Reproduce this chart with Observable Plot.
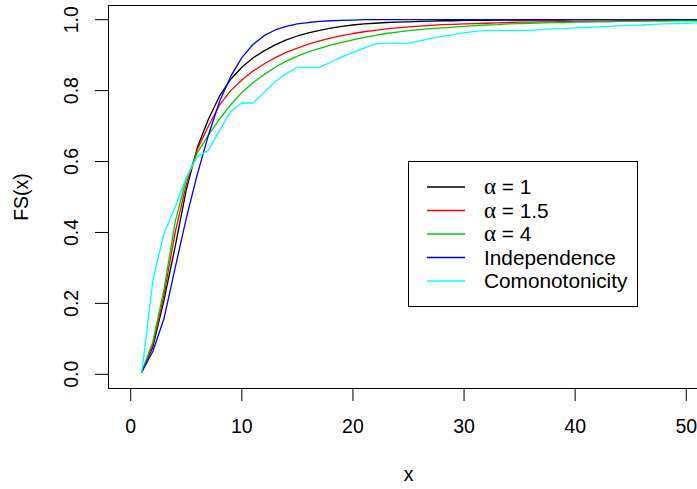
<!DOCTYPE html>
<html><head><meta charset="utf-8">
<script src="https://cdn.jsdelivr.net/npm/d3@7"></script>
<script src="https://cdn.jsdelivr.net/npm/@observablehq/plot@0.6"></script>
<style>
html,body{margin:0;padding:0;background:#fff;overflow:hidden;}
#wrap{position:relative;width:697px;height:489px;overflow:hidden;font-family:"Liberation Sans",Arial,sans-serif;}
#legend{position:absolute;left:408px;top:161px;}
</style></head>
<body>
<div id="wrap"><div id="chart"></div><div id="legend"></div></div>
<script>
const xs = [1,2,3,4,5,6,7,8,9,10,11,12,13,14,15,16,17,18,19,20,21,22,23,24,25,26,27,28,29,30,
  31,32,33,34,35,36,37,38,39,40,41,42,43,44,45,46,47,48,49,50,51,52,53,54,55,56,57,58,59,60];

const alpha1 = [.007,.078,.21,.36,.52,.64,.72,.785,.832,.866,
 .892,.912,.929,.943,.954,.963,.970,.976,.981,.985,
 .988,.990,.992,.993,.994,.995,.996,.997,.997,.998,
 .998,.998,.999,.999,.999,.999,.999,.999,.999,1,
 1,1,1,1,1,1,1,1,1,1,
 1,1,1,1,1,1,1,1,1,1];

const alpha15 = [.007,.085,.225,.40,.535,.635,.70,.76,.80,.83,
 .855,.875,.893,.908,.92,.931,.94,.948,.955,.961,
 .966,.970,.974,.977,.980,.982,.984,.986,.987,.988,
 .989,.990,.991,.992,.993,.993,.994,.994,.995,.995,
 .996,.996,.996,.997,.997,.997,.998,.998,.998,.998,
 .999,.999,.999,.999,.999,.999,.999,1,1,1];

const alpha4 = [.007,.092,.24,.43,.55,.625,.675,.72,.76,.795,
 .822,.845,.866,.883,.897,.909,.919,.928,.936,.943,
 .950,.956,.961,.965,.969,.972,.975,.977,.979,.981,
 .983,.985,.986,.988,.989,.990,.991,.992,.992,.993,
 .993,.994,.994,.995,.995,.996,.996,.996,.997,.997,
 .997,.998,.998,.998,.998,.999,.999,.999,.999,.999];

const independence = [.007,.065,.158,.30,.44,.565,.675,.77,.84,.893,
 .93,.955,.971,.981,.988,.992,.995,.997,.998,.999,
 1,1,1,1,1,1,1,1,1,1,
 1,1,1,1,1,1,1,1,1,1,
 1,1,1,1,1,1,1,1,1,1,
 1,1,1,1,1,1,1,1,1,1];

const comonotonicity = [.007,.266,.398,.472,.555,.614,.632,.688,.741,.765,
 .765,.795,.825,.848,.866,.866,.866,.880,.895,.908,
 .920,.932,.934,.934,.934,.940,.947,.953,.958,.963,
 .967,.970,.970,.970,.970,.970,.972,.974,.975,.977,
 .978,.980,.981,.983,.984,.985,.987,.988,.989,.990,
 .991,.992,.993,.994,.995,.996,.997,.998,.999,1];

const seriesNames = ["α = 1", "α = 1.5", "α = 4", "Independence", "Comonotonicity"];
const seriesColors = ["#000000", "#ff0000", "#00cd00", "#0000ff", "#00ffff"];
const seriesValues = [alpha1, alpha15, alpha4, independence, comonotonicity];

const xTicks = [0, 10, 20, 30, 40, 50];
const yTicks = [0, 0.2, 0.4, 0.6, 0.8, 1.0];
const xLabel = "x";
const yLabel = "FS(x)";

const FONT = "Liberation Sans, Arial, sans-serif";

const chart = Plot.plot({
  width: 697, height: 489,
  marginLeft: 108, marginRight: -11, marginTop: 5, marginBottom: 101,
  x: {domain: [-2, 52]},
  y: {domain: [-0.04, 1.04]},
  style: {fontFamily: FONT, fontSize: "19px", background: "white", color: "black"},
  marks: [
    ...seriesValues.map((vals, k) => Plot.line(xs, {
      x: d => d, y: (d, i) => vals[i], stroke: seriesColors[k], strokeWidth: 1.3, clip: true
    })),
    Plot.frame({stroke: "black", strokeWidth: 1}),
    Plot.axisX(xTicks, {tickSize: 13, tickFormat: () => "", label: null, strokeWidth: 1}),
    Plot.axisY(yTicks, {tickSize: 13, tickFormat: () => "", label: null, strokeWidth: 1}),
    Plot.text(xTicks, {x: d => d, text: d => String(d), frameAnchor: "bottom", textAnchor: "middle", dy: 38, lineAnchor: "middle", fontSize: 19.5, fill: "black"}),
    Plot.text(yTicks, {y: d => d, text: d => d.toFixed(1), frameAnchor: "left", textAnchor: "middle", dx: -37, rotate: -90, lineAnchor: "middle", fontSize: 19.5, fill: "black"}),
    Plot.text([xLabel], {text: d => d, frameAnchor: "bottom", textAnchor: "middle", dy: 86, lineAnchor: "middle", fontSize: 19.5, fill: "black"}),
    Plot.text([yLabel], {text: d => d, frameAnchor: "left", textAnchor: "middle", dx: -87, rotate: -90, lineAnchor: "middle", fontSize: 19.5, fill: "black"})
  ]
});
document.getElementById("chart").appendChild(chart);

// Legend (R-style boxed legend)
const rowY = [26, 49.5, 73, 96.5, 120];
const lsvg = d3.select("#legend").append("svg")
  .attr("width", 231).attr("height", 147)
  .style("display", "block")
  .attr("font-family", FONT).attr("font-size", 20.8);
lsvg.append("rect").attr("x", 0.5).attr("y", 0.5).attr("width", 229).attr("height", 145)
  .attr("fill", "white").attr("stroke", "black").attr("stroke-width", 1);
seriesNames.forEach((name, k) => {
  lsvg.append("line").attr("x1", 19).attr("x2", 57).attr("y1", rowY[k]).attr("y2", rowY[k])
    .attr("stroke", seriesColors[k]).attr("stroke-width", 1.3);
  const t = lsvg.append("text").attr("x", 76).attr("y", rowY[k]).attr("dy", "0.35em").attr("fill", "black");
  if (name.startsWith("α")) {
    t.append("tspan").attr("font-family", "Liberation Serif, DejaVu Serif, serif").attr("font-size", 23).text("α");
    t.append("tspan").text(name.slice(1));
  } else {
    t.text(name);
  }
});
</script>
</body></html>
